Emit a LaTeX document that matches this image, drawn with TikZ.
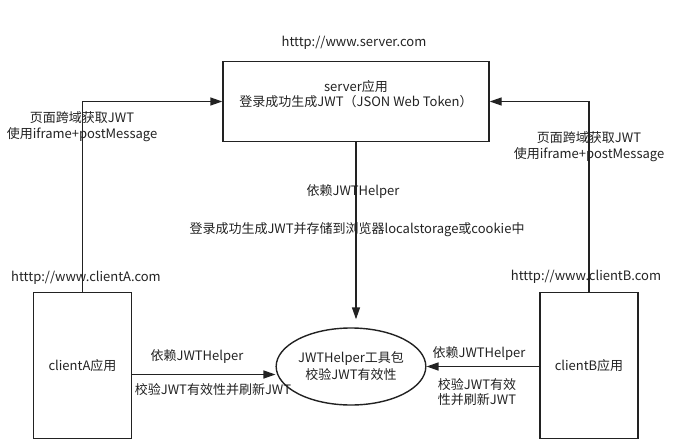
\documentclass[tikz,border=0pt]{standalone}
\usepackage{fontspec}
\setmainfont{Noto Sans CJK SC}
\usetikzlibrary{arrows.meta,shapes.geometric}
\definecolor{ink}{HTML}{222222}
\tikzset{
  box/.style={draw=ink, line width=1.4pt, minimum width=98pt, minimum height=146pt},
  lbl/.style={text=ink, align=center, inner sep=1pt, font=\fontsize{13}{16}\selectfont},
  arr/.style={draw=ink, line width=1.4pt, arrows=-{Triangle[length=12pt,width=8pt]}}
}
\begin{document}
\begin{tikzpicture}[x=1pt,y=-1pt]
\useasboundingbox (0,0) rectangle (683,447);
\node[box, minimum width=266pt, minimum height=80pt] (server) at (356,101.5) {};
\node[lbl, font=\fontsize{13}{15}\selectfont] (servertxt) at (356,94.5) {server应用\\登录成功生成JWT（JSON Web Token）};
\node[box, lbl] (clientA) at (82.5,365.5) {clientA应用};
\node[box, lbl] (clientB) at (589,365.5) {clientB应用};
\node[lbl, draw=ink, line width=1.4pt, ellipse, minimum width=132pt, minimum height=77pt, inner sep=0pt, font=\fontsize{13}{17}\selectfont] (helper) at (351,366.5) {JWTHelper工具包\\校验JWT有效性};
\node[lbl] (urlS) at (354,43) {htttp://www.server.com};
\node[lbl] (urlA) at (86,278) {htttp://www.clientA.com};
\node[lbl] (urlB) at (586,277) {htttp://www.clientB.com};
\draw[arr] (clientA.north) |- (server.west);
\draw[arr] (clientB.north) |- (server.east);
\node[lbl] (crossA) at (82,127) {页面跨域获取JWT\\使用iframe+postMessage};
\node[lbl] (crossB) at (589,147) {页面跨域获取JWT\\使用iframe+postMessage};
\path (helper.north -| server.south) ++(0,-8) coordinate (tip);
\draw[arr] (server.south) -- (tip);
\node[lbl] (depS) at (353,192) {依赖JWTHelper};
\node[lbl] (storeS) at (357,230) {登录成功生成JWT并存储到浏览器localstorage或cookie中};
\draw[arr] ([yshift=-9pt]clientA.east) -- ([yshift=-9pt]clientA.east -| helper.west);
\node[lbl] (depA) at (197,357) {依赖JWTHelper};
\node[lbl] (checkA) at (213,390) {校验JWT有效性并刷新JWT};
\draw[arr] (clientB.west |- helper.east) -- (helper.east);
\node[lbl] (depB) at (479,354) {依赖JWTHelper};
\node[lbl, align=left, font=\fontsize{13}{15}\selectfont] (checkB) at (477,392) {校验JWT有效\\性并刷新JWT};
\end{tikzpicture}
\end{document}
